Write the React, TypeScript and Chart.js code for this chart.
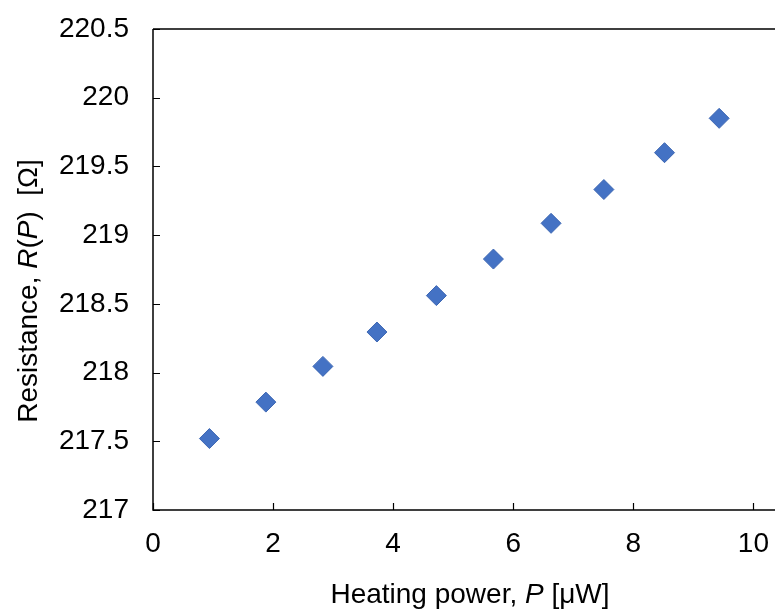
import React, { useEffect, useRef } from "react";
import { Chart, registerables } from "chart.js";

Chart.register(...registerables);

const powerValues = [0.94, 1.88, 2.83, 3.73, 4.72, 5.67, 6.63, 7.51, 8.52, 9.43];
const resistanceValues = [217.52, 217.785, 218.045, 218.295, 218.56, 218.826, 219.086, 219.332, 219.6, 219.85];
const xTickValues = [0, 2, 4, 6, 8, 10];
const yTickValues = [217, 217.5, 218, 218.5, 219, 219.5, 220, 220.5];

const FONT = "Arial, 'Liberation Sans', sans-serif";
const FONT_SIZE = 28;

const framePlugin = {
  id: "frame",
  afterLayout(chart: any) {
    const ca = chart.chartArea;
    ca.right = chart.width;
    ca.width = ca.right - ca.left;
    const xs = chart.scales.x;
    xs.right = chart.width;
    xs.width = xs.right - xs.left;
    xs.configure();
  },
  afterDraw(chart: any) {
    const ctx = chart.ctx;
    const { left, right, top, bottom } = chart.chartArea;
    const xs = chart.scales.x;
    const ys = chart.scales.y;
    ctx.save();
    ctx.strokeStyle = "#000";
    ctx.lineWidth = 1.5;
    ctx.beginPath();
    ctx.moveTo(left, top);
    ctx.lineTo(right, top);
    ctx.moveTo(left, top);
    ctx.lineTo(left, bottom);
    ctx.lineTo(right, bottom);
    ctx.stroke();
    ctx.lineWidth = 1.2;
    ctx.beginPath();
    for (const v of xTickValues) {
      const px = Math.round(xs.getPixelForValue(v)) + 0.5;
      ctx.moveTo(px, bottom);
      ctx.lineTo(px, bottom - 7);
    }
    for (const v of yTickValues) {
      const py = Math.round(ys.getPixelForValue(v)) + 0.5;
      ctx.moveTo(left, py);
      ctx.lineTo(left + 7, py);
    }
    ctx.stroke();

    // axis titles with italic parts
    const drawParts = (parts: [string, boolean][], cx: number, cy: number, rotate: boolean) => {
      ctx.save();
      ctx.translate(cx, cy);
      if (rotate) ctx.rotate(-Math.PI / 2);
      ctx.fillStyle = "#000";
      ctx.textBaseline = "alphabetic";
      ctx.textAlign = "left";
      let total = 0;
      const widths: number[] = [];
      for (const [t, it] of parts) {
        ctx.font = `${it ? "italic " : ""}${FONT_SIZE}px ${FONT}`;
        const w = ctx.measureText(t).width;
        widths.push(w);
        total += w;
      }
      let x = -total / 2;
      parts.forEach(([t, it], i) => {
        ctx.font = `${it ? "italic " : ""}${FONT_SIZE}px ${FONT}`;
        ctx.fillText(t, x, 0);
        x += widths[i];
      });
      ctx.restore();
    };
    drawParts(
      [["Heating power, ", false], ["P", true], [" [μW]", false]],
      470,
      603,
      false
    );
    drawParts(
      [["Resistance, ", false], ["R", true], ["(", false], ["P", true], [")  [Ω]", false]],
      37,
      291,
      true
    );
    ctx.restore();
  },
};

export default function App() {
  const ref = useRef<HTMLCanvasElement>(null);
  useEffect(() => {
    if (!ref.current) return;
    const chart = new Chart(ref.current, {
      type: "scatter",
      data: {
        datasets: [
          {
            data: powerValues.map((x, i) => ({ x, y: resistanceValues[i] })),
            pointStyle: "rectRot",
            pointRadius: 10,
            pointHoverRadius: 10,
            backgroundColor: "#4472C4",
            borderColor: "#3D67B3",
            borderWidth: 1,
          },
        ],
      },
      options: {
        responsive: false,
        animation: false,
        layout: { padding: { top: 29, right: 0, left: 0, bottom: 0 } },
        plugins: { legend: { display: false }, tooltip: { enabled: false } },
        scales: {
          x: {
            type: "linear",
            min: 0,
            max: 10.36,
            afterBuildTicks: (s: any) => {
              s.ticks = xTickValues.map((v) => ({ value: v }));
            },
            afterFit: (s: any) => {
              s.height = 99;
              s.paddingLeft = 0;
              s.paddingRight = 0;
            },
            grid: { display: false, drawTicks: false },
            border: { display: false },
            ticks: {
              padding: 17,
              color: "#000",
              font: { family: FONT, size: FONT_SIZE },
              maxRotation: 0,
              callback: (v: any) => String(v),
            },
          },
          y: {
            type: "linear",
            min: 217,
            max: 220.5,
            afterBuildTicks: (s: any) => {
              s.ticks = yTickValues.map((v) => ({ value: v }));
            },
            afterFit: (s: any) => {
              s.width = 153;
              s.paddingTop = 0;
              s.paddingBottom = 0;
            },
            grid: { display: false, drawTicks: false },
            border: { display: false },
            ticks: {
              padding: 24,
              color: "#000",
              font: { family: FONT, size: FONT_SIZE },
              callback: (v: any) => String(v),
            },
          },
        },
      },
      plugins: [framePlugin],
    });
    return () => chart.destroy();
  }, []);
  return (
    <div style={{ position: "fixed", left: 0, top: 0, width: 775, height: 609, background: "#fff" }}>
      <canvas ref={ref} width={775} height={609} style={{ width: 775, height: 609, display: "block" }} />
    </div>
  );
}
